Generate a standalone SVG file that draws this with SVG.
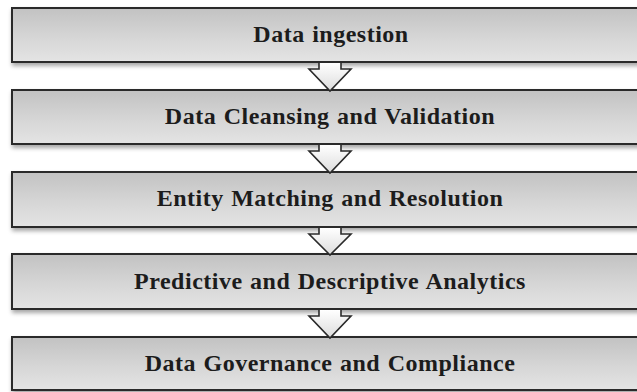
<svg xmlns="http://www.w3.org/2000/svg" width="637" height="392" viewBox="0 0 637 392">
<defs>
<linearGradient id="boxFill" x1="0" y1="0" x2="0" y2="1">
<stop offset="0" stop-color="#c2c2c2"/>
<stop offset="0.55" stop-color="#d6d6d6"/>
<stop offset="1" stop-color="#e4e4e4"/>
</linearGradient>
<linearGradient id="arrowFill" x1="0" y1="0" x2="0" y2="1">
<stop offset="0" stop-color="#ffffff"/>
<stop offset="1" stop-color="#dcdcdc"/>
</linearGradient>
<filter id="shadow" x="-5%" y="-20%" width="110%" height="160%">
<feDropShadow dx="1" dy="3" stdDeviation="2" flood-color="#000" flood-opacity="0.35"/>
</filter>
</defs>
<style>
.box{fill:url(#boxFill);stroke:#2a2a2a;stroke-width:2;filter:url(#shadow);}
.label{font-family:"Liberation Serif","Times New Roman",serif;font-weight:bold;font-size:24px;fill:#1c1c1c;text-anchor:middle;letter-spacing:0.5px;word-spacing:1px;}
.afill{fill:url(#arrowFill);stroke:none;}
.aline{fill:none;stroke:#2a2a2a;stroke-width:1.6;stroke-linejoin:miter;}
</style>
<rect width="637" height="392" fill="#ffffff"/>
<g id="node1"><rect class="box" x="12" y="8" width="630" height="54"/><text class="label" x="331" y="42">Data ingestion</text></g>
<g id="node2"><rect class="box" x="12" y="90" width="630" height="54"/><text class="label" x="330" y="124">Data Cleansing and Validation</text></g>
<g id="node3"><rect class="box" x="12" y="172" width="630" height="55"/><text class="label" x="330" y="206">Entity Matching and Resolution</text></g>
<g id="node4"><rect class="box" x="12" y="254" width="630" height="55"/><text class="label" x="330" y="289">Predictive and Descriptive Analytics</text></g>
<g id="node5"><rect class="box" x="12" y="337" width="630" height="53"/><text class="label" x="330" y="371">Data Governance and Compliance</text></g>
<g id="connectors">
<g id="arrow1"><path class="afill" d="M319,63 V69 H309 L330,91 L351,69 H341 V63 Z"/><path class="aline" d="M319,63 V69 H309 L330,91 L351,69 H341 V63"/></g>
<g id="arrow2"><path class="afill" d="M319,145 V151 H309 L330,173 L351,151 H341 V145 Z"/><path class="aline" d="M319,145 V151 H309 L330,173 L351,151 H341 V145"/></g>
<g id="arrow3"><path class="afill" d="M319,228 V234 H309 L330,255 L351,234 H341 V228 Z"/><path class="aline" d="M319,228 V234 H309 L330,255 L351,234 H341 V228"/></g>
<g id="arrow4"><path class="afill" d="M319,310 V316 H309 L330,338 L351,316 H341 V310 Z"/><path class="aline" d="M319,310 V316 H309 L330,338 L351,316 H341 V310"/></g>
</g>
</svg>
